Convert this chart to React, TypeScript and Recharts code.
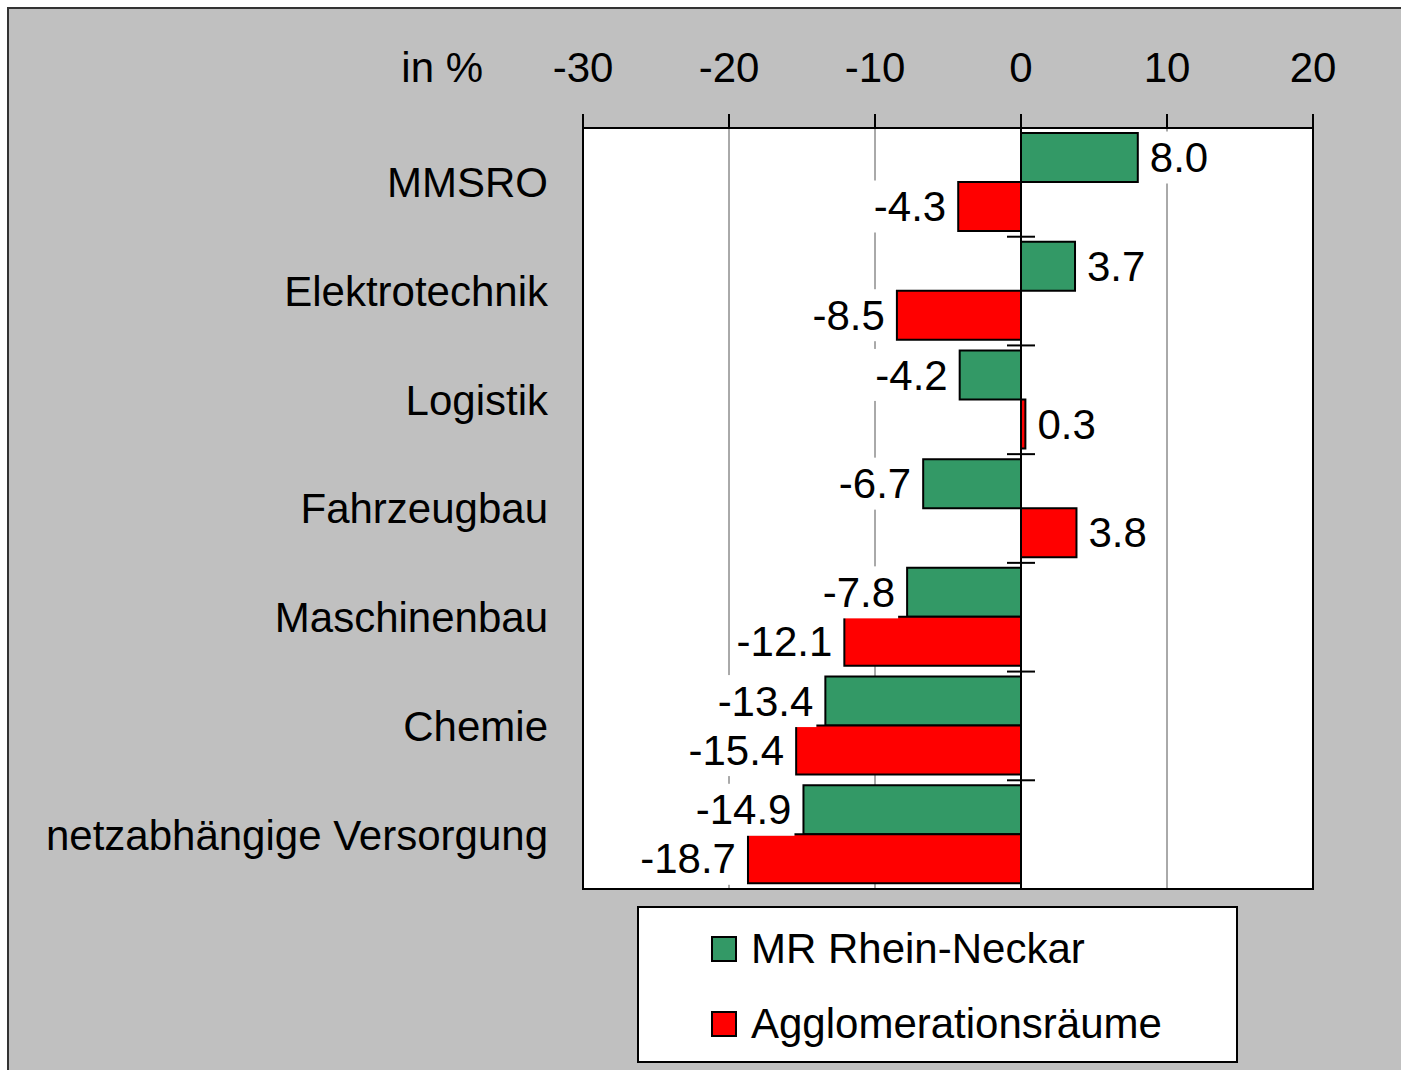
import {
  BarChart,
  Bar,
  XAxis,
  YAxis,
  CartesianGrid,
  ReferenceLine,
  ReferenceArea,
  LabelList,
  Legend,
} from "recharts";

const categories = [
  "MMSRO",
  "Elektrotechnik",
  "Logistik",
  "Fahrzeugbau",
  "Maschinenbau",
  "Chemie",
  "netzabhängige Versorgung",
];
const mrRheinNeckar = [8.0, 3.7, -4.2, -6.7, -7.8, -13.4, -14.9];
const agglomeration = [-4.3, -8.5, 0.3, 3.8, -12.1, -15.4, -18.7];
const seriesNames = ["MR Rhein-Neckar", "Agglomerationsräume"];
const xTicks = [-30, -20, -10, 0, 10, 20];

const data = categories.map((name, i) => ({
  name,
  mr: mrRheinNeckar[i],
  agg: agglomeration[i],
}));

const FONT = '"Liberation Sans", Arial, sans-serif';
const FS = 42;
const GREEN = "#339966";
const RED = "#ff0000";

// rough Arial advance widths, enough to size the white label boxes
const charW: Record<string, number> = { "-": 0.333, ".": 0.278 };
const textWidth = (s: string) =>
  s.split("").reduce((sum, c) => sum + (charW[c] ?? 0.556), 0) * FS;

function ValueLabel(props: any) {
  const { x, y, width, height, value } = props;
  const v = Number(value);
  const x0 = Number(x);
  const w = Number(width);
  const end = v >= 0 ? Math.max(x0, x0 + w) : Math.min(x0, x0 + w);
  const text = v.toFixed(1);
  const tw = textWidth(text);
  const pos = v >= 0;
  const tx = pos ? end + 12 : end - 12;
  const cy = Number(y) + Number(height) / 2;
  const rx = pos ? tx - 3 : tx - tw - 3;
  return (
    <g>
      <rect x={rx} y={cy - 26} width={tw + 6} height={52} fill="#fff" />
      <text
        x={tx}
        y={cy}
        dy="0.35em"
        textAnchor={pos ? "start" : "end"}
        fontSize={FS}
        fontFamily={FONT}
        fill="#000"
      >
        {text}
      </text>
    </g>
  );
}

// zero line with the small category separators
function ZeroLine(props: any) {
  const { x1, y1, y2 } = props;
  const top = Math.min(y1, y2);
  const h = Math.abs(y2 - y1);
  const step = h / categories.length;
  return (
    <g>
      <line x1={x1} x2={x1} y1={y1} y2={y2} stroke="#000" strokeWidth={2} />
      {Array.from({ length: categories.length + 1 }, (_, i) => (
        <line
          key={i}
          x1={x1 - 14}
          x2={x1 + 14}
          y1={top + i * step}
          y2={top + i * step}
          stroke="#000"
          strokeWidth={2}
        />
      ))}
    </g>
  );
}

function LegendBox(props: any) {
  const items = [...(props.payload ?? [])].sort(
    (a: any, b: any) => seriesNames.indexOf(a.value) - seriesNames.indexOf(b.value)
  );
  return (
    <div
      style={{
        boxSizing: "border-box",
        width: 601,
        height: 157,
        border: "2px solid #000",
        background: "#fff",
        position: "relative",
        fontFamily: FONT,
        fontSize: FS,
        color: "#000",
      }}
    >
      {items.map((it: any, i: number) => (
        <div
          key={it.value}
          style={{
            position: "absolute",
            left: 72,
            top: 14 + i * 75,
            height: 54,
            display: "flex",
            alignItems: "center",
            whiteSpace: "nowrap",
          }}
        >
          <span
            style={{
              boxSizing: "border-box",
              display: "inline-block",
              width: 26,
              height: 26,
              background: it.color,
              border: "2px solid #000",
              marginRight: 14,
            }}
          />
          {it.value}
        </div>
      ))}
    </div>
  );
}

export default function App() {
  return (
    <div
      style={{
        position: "absolute",
        left: 0,
        top: 0,
        width: 1401,
        height: 1070,
        overflow: "hidden",
        background: "#fff",
        fontFamily: FONT,
      }}
    >
      <div
        style={{
          position: "absolute",
          left: 7,
          top: 7,
          width: 1401,
          height: 1070,
          background: "#c0c0c0",
          borderTop: "2px solid #333",
          borderLeft: "2px solid #333",
        }}
      />
      <div
        style={{
          position: "absolute",
          left: 0,
          width: 483,
          top: 47,
          textAlign: "right",
          fontSize: FS,
          lineHeight: "42px",
          color: "#000",
        }}
      >
        in %
      </div>
      <div style={{ position: "absolute", left: 0, top: 0 }}>
        <BarChart
          width={1401}
          height={1070}
          data={data}
          layout="vertical"
          margin={{ top: 0, right: 88, bottom: 181, left: 0 }}
          barCategoryGap={5}
          barGap={0}
        >
          <CartesianGrid
            horizontal={false}
            stroke="#555"
            strokeWidth={1}
            fill="#fff"
            fillOpacity={1}
          />
          <XAxis
            type="number"
            orientation="top"
            domain={[-30, 20]}
            ticks={xTicks}
            interval={0}
            height={128}
            tickSize={14}
            tickMargin={32}
            axisLine={{ stroke: "#000", strokeWidth: 2 }}
            tickLine={{ stroke: "#000", strokeWidth: 2 }}
            tick={{ fontSize: FS, fill: "#000", fontFamily: FONT }}
          />
          <YAxis
            type="category"
            dataKey="name"
            width={583}
            axisLine={false}
            tickLine={false}
            tickSize={0}
            tickMargin={35}
            interval={0}
            tick={{ fontSize: FS, fill: "#000", fontFamily: FONT }}
          />
          <ReferenceArea
            x1={-30}
            x2={20}
            fill="none"
            fillOpacity={0}
            stroke="#000"
            strokeWidth={2}
          />
          <Bar
            dataKey="mr"
            name={seriesNames[0]}
            fill={GREEN}
            stroke="#000"
            strokeWidth={2}
            isAnimationActive={false}
          >
            <LabelList dataKey="mr" content={ValueLabel} />
          </Bar>
          <Bar
            dataKey="agg"
            name={seriesNames[1]}
            fill={RED}
            stroke="#000"
            strokeWidth={2}
            isAnimationActive={false}
          >
            <LabelList dataKey="agg" content={ValueLabel} />
          </Bar>
          <ReferenceLine x={0} shape={ZeroLine} />
          <Legend
            layout="horizontal"
            verticalAlign="middle"
            align="center"
            content={LegendBox}
            wrapperStyle={{ left: 637, top: 906, width: 601, height: 157 }}
          />
        </BarChart>
      </div>
    </div>
  );
}
